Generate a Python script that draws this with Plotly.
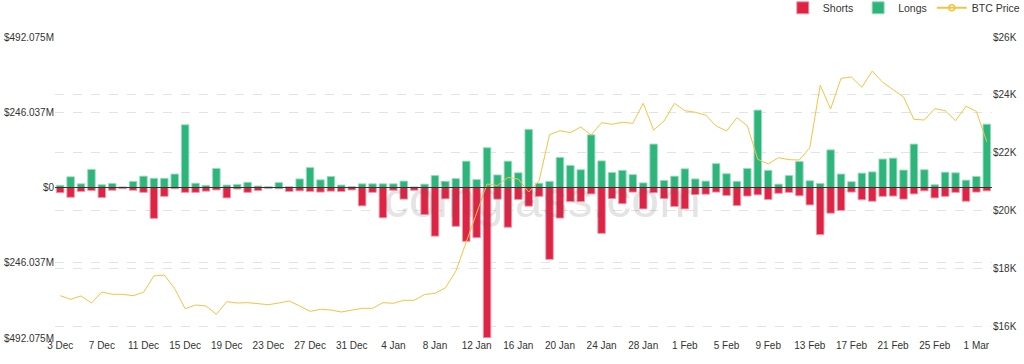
import pandas as pd
import plotly.graph_objects as go

# ---- data (values in $M, price in $) ----
dates = pd.date_range("2022-12-03", "2023-03-02", freq="D")
date_labels = [f"{d.day} {d.strftime('%b')}" for d in dates]

longs = [7, 35, 12, 59, 9, 13, 2, 20, 37, 30, 30, 44, 205, 14, 7, 62, 8, 10,
         17, 5, 3, 16, 3, 28, 65, 25, 36, 8, 3, 12, 12, 12, 12, 21, 2, 11,
         39, 20, 29, 86, 26, 130, 41, 86, 48, 190, 14, 20, 98, 72, 58, 172, 87, 49,
         56, 42, 15, 142, 23, 37, 61, 28, 21, 78, 45, 20, 62, 253, 56, 11, 39, 85,
         22, 13, 123, 44, 19, 47, 51, 93, 96, 57, 142, 58, 9, 50, 48, 24, 36, 207]

shorts = [17, 32, 13, 10, 33, 9, 4, 9, 16, 101, 29, 4, 16, 16, 12, 8, 34, 5,
          16, 10, 3, 4, 13, 11, 13, 15, 12, 13, 8, 60, 16, 99, 9, 38, 9, 88,
          159, 37, 127, 176, 164, 491, 38, 130, 39, 61, 29, 235, 100, 46, 46, 21, 150, 36,
          53, 15, 70, 17, 36, 62, 70, 23, 22, 15, 26, 59, 28, 24, 39, 19, 16, 27,
          57, 154, 84, 75, 15, 40, 45, 29, 28, 38, 21, 11, 34, 29, 16, 45, 15, 11]

btc_price = [17049, 16924, 17039, 16796, 17177, 17097, 17097, 17049, 17166, 17731,
             17765, 17291, 16599, 16727, 16693, 16405, 16842, 16796, 16808, 16772,
             16738, 16796, 16866, 16693, 16508, 16577, 16554, 16485, 16554, 16612,
             16612, 16808, 16785, 16889, 16889, 17090, 17131, 17320, 17900, 18900,
             19899, 20914, 20862, 21145, 21087, 20637, 21028, 22620, 22758, 22689,
             22886, 22609, 23035, 22978, 23049, 23014, 23706, 22782, 23094, 23706,
             23450, 23395, 23301, 22921, 22748, 23208, 22931, 21768, 21606, 21824,
             21755, 21744, 22170, 24329, 23509, 24570, 24616, 24259, 24824, 24433,
             24177, 23924, 23152, 23128, 23520, 23450, 23104, 23602, 23429, 22377]

left_ticks = [-492.075, -246.037, 0, 246.037, 492.075]
left_ticktext = ["$492.075M", "$246.037M", "$0", "$246.037M", "$492.075M"]
right_ticks = [16000, 18000, 20000, 22000, 24000, 26000]
right_ticktext = ["$16K", "$18K", "$20K", "$22K", "$24K", "$26K"]

RED = "#DE2444"
GREEN = "#2DB57C"
GOLD = "#F4C342"
FONT = "Liberation Sans, Arial, Helvetica, sans-serif"

fig = go.Figure()
fig.add_trace(go.Bar(
    x=date_labels, y=[-v for v in shorts], name="Shorts",
    marker=dict(color=RED, line=dict(color="rgba(240,150,165,0.9)", width=1)),
))
fig.add_trace(go.Bar(
    x=date_labels, y=longs, name="Longs",
    marker=dict(color=GREEN, line=dict(color="rgba(150,220,190,0.9)", width=1)),
))
fig.add_trace(go.Scatter(
    x=date_labels, y=btc_price, name="BTC Price", yaxis="y2",
    mode="lines", line=dict(color=GOLD, width=1), showlegend=False,
))
fig.add_trace(go.Scatter(
    x=[None], y=[None], name="BTC Price", yaxis="y2",
    mode="lines+markers", line=dict(color=GOLD, width=2),
    marker=dict(symbol="circle-open", size=6, color=GOLD, line=dict(width=1.5)),
))

fig.add_shape(type="line", xref="paper", yref="y", x0=0, x1=1, y0=0, y1=0,
              line=dict(color="#333333", width=1), layer="above")

fig.add_annotation(text="coinglass.com", xref="paper", yref="paper",
                   x=0.52, y=0.46, showarrow=False,
                   font=dict(family=FONT, size=50, color="rgba(90,90,90,0.16)"))

fig.update_layout(
    width=1024, height=364,
    margin=dict(l=55, r=32, t=37, b=26, autoexpand=False),
    paper_bgcolor="white", plot_bgcolor="white",
    barmode="relative", bargap=0.28,
    font=dict(family=FONT, size=10, color="#333333"),
    legend=dict(orientation="h", x=1.035, xanchor="right", y=1.097, yanchor="middle",
                itemwidth=30, font=dict(size=10.5, color="#333333"),
                traceorder="normal", bgcolor="rgba(0,0,0,0)"),
    xaxis=dict(type="category", tickmode="array",
               tickvals=date_labels[::4], ticktext=date_labels[::4],
               showgrid=False, showline=False, ticks="", tickangle=0,
               range=[-0.5, len(date_labels) - 0.5],
               tickfont=dict(size=10, color="#333333")),
    yaxis=dict(range=[-492.075, 492.075], tickmode="array",
               tickvals=left_ticks, ticktext=left_ticktext,
               showgrid=True, gridcolor="#e3e3e3", griddash="dash", gridwidth=1,
               zeroline=False, showline=False, ticks="",
               tickfont=dict(size=10, color="#333333")),
    yaxis2=dict(range=[15585, 26000], overlaying="y", side="right",
                tickmode="array", tickvals=right_ticks, ticktext=right_ticktext,
                showgrid=True, gridcolor="#e3e3e3", griddash="dash", gridwidth=1,
                zeroline=False, showline=False, ticks="",
                tickfont=dict(size=10, color="#333333")),
)

fig.write_html("out.html", config={"displayModeBar": False},
               post_script="document.body.style.margin='0';document.body.style.overflow='hidden';")
